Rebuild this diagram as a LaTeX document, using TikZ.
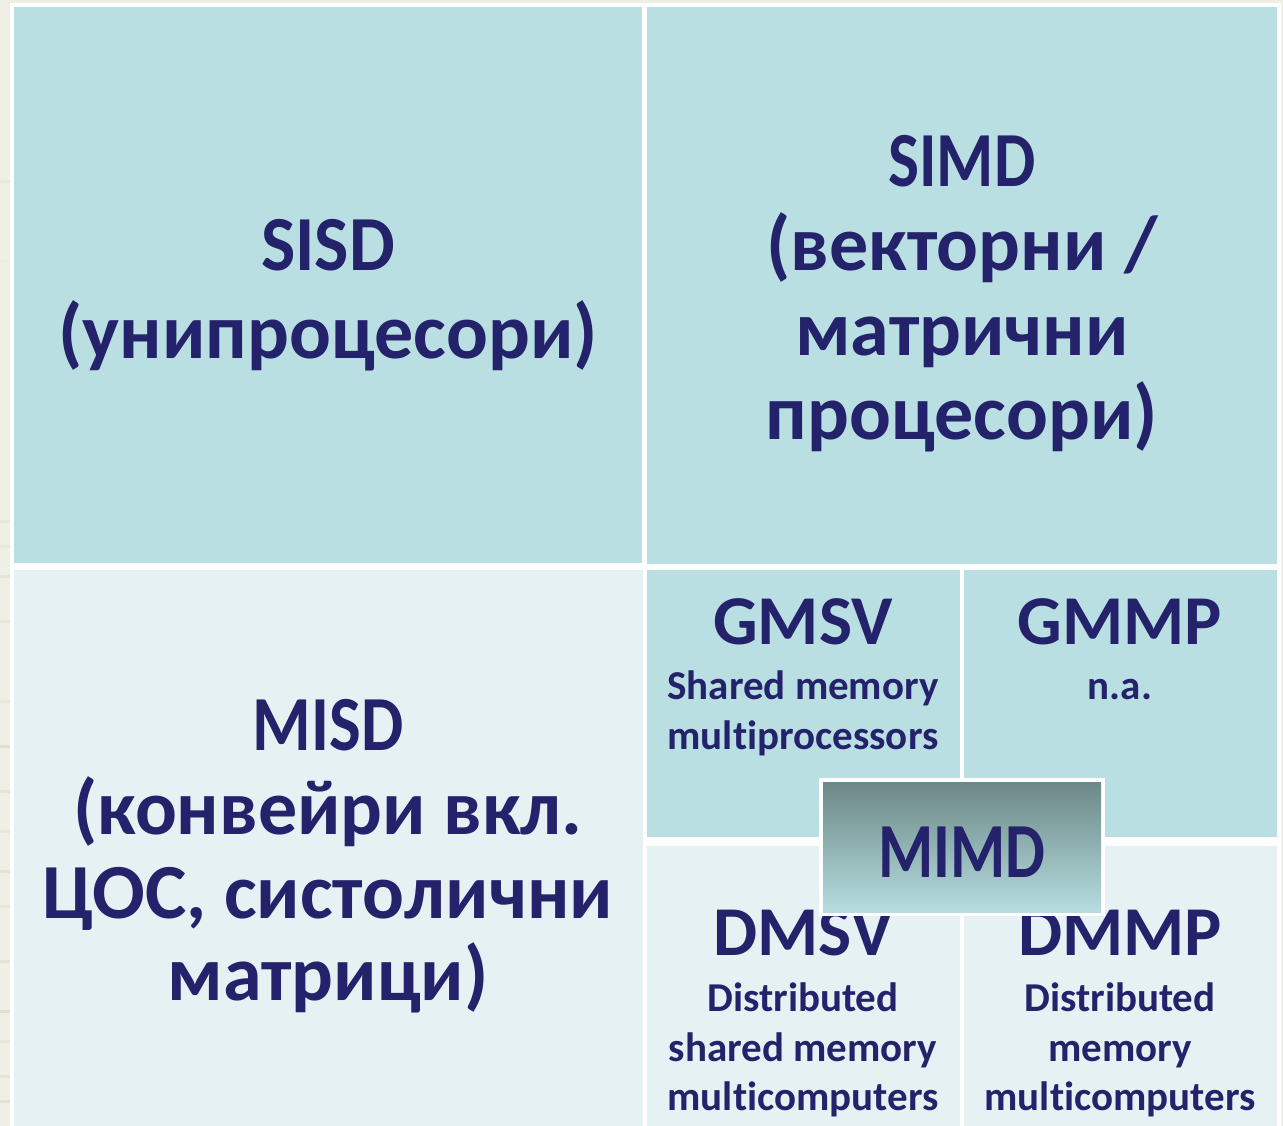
\documentclass[tikz,border=0pt]{standalone}
\usepackage{graphicx}
\usepackage{fontspec}
\setmainfont[Ligatures=NoCommon]{Carlito}
\definecolor{navy}{RGB}{35,34,106}
\definecolor{celldark}{RGB}{186,223,226}
\definecolor{celllight}{RGB}{230,241,243}
\definecolor{paper}{RGB}{238,240,230}
\definecolor{streak}{RGB}{214,222,196}
\definecolor{mimdtop}{RGB}{108,136,135}
\definecolor{mimdbot}{RGB}{182,221,223}
% narrow setting for the class headings
\newcommand{\narrowword}[2]{\scalebox{#1}[1]{#2}}
\begin{document}
\begin{tikzpicture}[x=1pt,y=-1pt,
  lbl/.style={text=navy, inner sep=0pt, anchor=base},
  big/.style={lbl, font=\bfseries\fontsize{78}{84}\selectfont},
  mid/.style={lbl, font=\bfseries\fontsize{70}{75}\selectfont},
  small/.style={lbl, font=\bfseries\fontsize{41}{48}\selectfont}]
% paper background and frame
\useasboundingbox (0,0) rectangle (1283,1126);
\fill[paper] (0,0) rectangle (1283,1126);
\foreach \yy/\op in {180/0.3,260/0.2,520/0.4,545/0.3,575/0.5,620/0.4,700/0.3,745/0.7,790/0.5,830/0.4,870/0.6,905/0.4,960/0.5,1010/0.7,1040/0.4,1075/0.5,1100/0.6}
  \fill[streak, opacity=\op] (0,\yy) rectangle (10,\yy+3);
\fill[white] (10,3) rectangle (1281,1126);
% cells
\fill[celldark]  (14,7)    rectangle (642,563);
\fill[celldark]  (647,7)   rectangle (1277,564);
\fill[celllight] (14,570)  rectangle (643,1126);
\fill[celldark]  (647,570) rectangle (960,837);
\fill[celldark]  (964,570) rectangle (1277,837);
\fill[celllight] (647,846) rectangle (960,1126);
\fill[celllight] (964,846) rectangle (1277,1126);
% SISD
\node[big] (sisd1) at (328,271) {\narrowword{0.93}{SISD}};
\node[big] (sisd2) at (328,358) {(унипроцесори)};
% SIMD
\node[big] (simd1) at (962,187) {\narrowword{0.84}{SIMD}};
\node[big] (simd2) at (962,271) {(векторни /};
\node[big] (simd3) at (962,355) {матрични};
\node[big] (simd4) at (962,439) {процесори)};
% MISD
\node[big] (misd1) at (328,750) {\narrowword{0.86}{MISD}};
\node[big] (misd2) at (328,834) {(конвейри вкл.};
\node[big] (misd3) at (328,918) {ЦОС, систолични};
\node[big] (misd4) at (328,1000) {матрици)};
% GMSV
\node[mid] (gmsv1) at (803,644) {GMSV};
\node[small] (gmsv2) at (803,699) {Shared memory};
\node[small] (gmsv3) at (803,749) {multiprocessors};
% GMMP
\node[mid] (gmmp1) at (1120,644) {GMMP};
\node[small] (gmmp2) at (1120,699) {n.a.};
% DMSV
\node[mid] (dmsv1) at (803,955) {DMSV};
\node[small] (dmsv2) at (803,1011) {Distributed};
\node[small] (dmsv3) at (803,1061) {shared memory};
\node[small] (dmsv4) at (803,1110) {multicomputers};
% DMMP
\node[mid] (dmmp1) at (1120,955) {DMMP};
\node[small] (dmmp2) at (1120,1011) {Distributed};
\node[small] (dmmp3) at (1120,1061) {memory};
\node[small] (dmmp4) at (1120,1110) {multicomputers};
% MIMD overlay box
\fill[white] (819,778) rectangle (1105,916);
\shade[top color=mimdtop, bottom color=mimdbot] (823,782) rectangle (1101,912);
\node[big] (mimd) at (962,877) {\narrowword{0.81}{MIMD}};
\end{tikzpicture}
\end{document}
